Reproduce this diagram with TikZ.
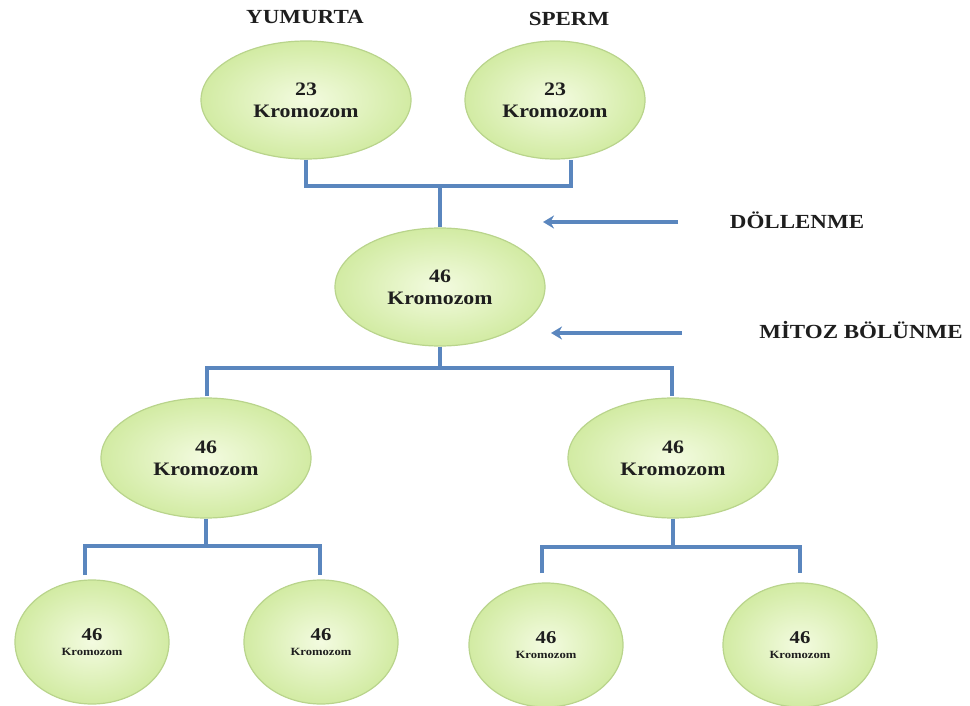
\documentclass[tikz,border=0pt]{standalone}
\usepackage{fontspec}
\setmainfont{Liberation Serif}
\newfontfamily\wideserif[FakeStretch=1.15]{Liberation Serif}
\usetikzlibrary{shapes.geometric,arrows.meta}
\definecolor{cellborder}{HTML}{B9D48C}
\definecolor{cellin}{HTML}{F3FBE0}
\definecolor{cellout}{HTML}{D2EBA3}
\definecolor{linkblue}{HTML}{5A86BE}
\definecolor{txt}{HTML}{1E1E1E}
\tikzset{
  cell/.style={ellipse, draw=cellborder, line width=1.2pt, shading=radial,
    inner color=cellin, outer color=cellout, inner sep=0pt, align=center,
    text=txt},
  bigcell/.style={cell, minimum width=210pt, minimum height=118pt,
    font=\wideserif\bfseries\fontsize{19}{22}\selectfont},
  smallcell/.style={cell, minimum width=154pt, minimum height=124pt,
    font=\wideserif\bfseries\fontsize{18}{15}\selectfont},
  link/.style={draw=linkblue, line width=3.6pt},
  pointer/.style={draw=linkblue, line width=3.6pt, -{Stealth[length=11pt,width=13pt]}},
  caption/.style={text=txt, font=\wideserif\bfseries\fontsize{20}{22}\selectfont}
}
\newcommand{\tinyword}[1]{{\fontsize{11}{13}\selectfont #1}}
\begin{document}
\begin{tikzpicture}[x=1pt,y=-1pt]
\useasboundingbox (0,0) rectangle (970,706);
% top row
\node[bigcell] (egg) at (306,100) {23\\Kromozom};
\node[bigcell, minimum width=180pt] (sperm) at (555,100) {23\\Kromozom};
\node[caption] (eggt) at (305,17) {YUMURTA};
\node[caption] (spermt) at (569,19) {SPERM};
% zygote
\node[bigcell] (zyg) at (440,287) {46\\Kromozom};
% middle row
\node[bigcell, minimum height=120pt] (ml) at (206,458) {46\\Kromozom};
\node[bigcell, minimum height=120pt] (mr) at (673,458) {46\\Kromozom};
% bottom row
\node[smallcell] (b1) at (92,642) {46\\\tinyword{Kromozom}};
\node[smallcell] (b2) at (321,642) {46\\\tinyword{Kromozom}};
\node[smallcell] (b3) at (546,645) {46\\\tinyword{Kromozom}};
\node[smallcell] (b4) at (800,645) {46\\\tinyword{Kromozom}};
% junctions
\coordinate (j1) at (440,186);
\coordinate (j2) at (440,368);
\coordinate (j3) at (206,546);
\coordinate (j4) at (673,547);
\coordinate (b1t) at (85,575);
\coordinate (b2t) at (320,575);
\coordinate (b3t) at (542,573);
\coordinate (b4t) at (800,573);
\coordinate (mlt) at (207,396);
\coordinate (mrt) at (672,396);
% connectors
\path[link] (egg.south) |- (j1) -| (sperm.south -| 571,0);
\path[link] (j1) -- (zyg.north);
\path[link] (zyg.south) -- (j2);
\path[link] (mlt) |- (j2) -| (mrt);
\path[link] (ml.south) -- (j3);
\path[link] (b1t) |- (j3) -| (b2t);
\path[link] (mr.south) -- (j4);
\path[link] (b3t) |- (j4) -| (b4t);
% arrows
\coordinate (a1s) at (678,222);
\coordinate (a1e) at (543,222);
\coordinate (a2s) at (682,333);
\coordinate (a2e) at (551,333);
\path[pointer] (a1s) -- (a1e);
\path[pointer] (a2s) -- (a2e);
\node[caption] (fert) at (797,220) {DÖLLENME};
\node[caption] (mito) at (861,330) {MİTOZ BÖLÜNME};
\end{tikzpicture}
\end{document}
